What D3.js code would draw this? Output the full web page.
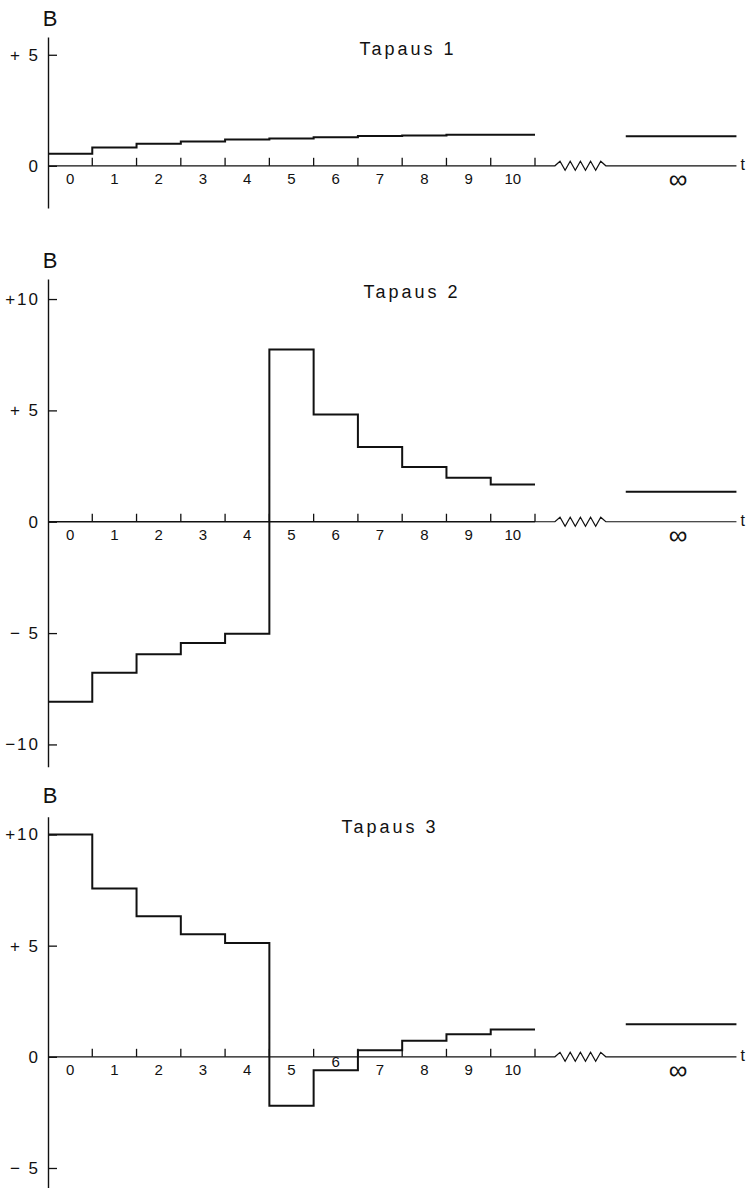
<!DOCTYPE html>
<html>
<head>
<meta charset="utf-8">
<script src="https://cdn.jsdelivr.net/npm/d3@7"></script>
<style>
  body { margin: 0; background: #fff; }
  svg text { font-family: "Liberation Sans", "DejaVu Sans", sans-serif; fill: #111; }
</style>
</head>
<body>
<div id="chart"></div>
<script>
const categories = ["0", "1", "2", "3", "4", "5", "6", "7", "8", "9", "10"];
const titles = ["Tapaus 1", "Tapaus 2", "Tapaus 3"];

// B per period, plus the limit value at t = infinity
const case1 = [0.54, 0.82, 0.99, 1.09, 1.18, 1.23, 1.29, 1.34, 1.36, 1.40, 1.40];
const case1Inf = 1.33;
const case2 = [-8.08, -6.78, -5.95, -5.45, -5.03, 7.73, 4.82, 3.36, 2.46, 1.97, 1.67];
const case2Inf = 1.35;
const case3 = [10.0, 7.57, 6.32, 5.51, 5.12, -2.2, -0.6, 0.30, 0.72, 1.02, 1.23];
const case3Inf = 1.46;

const yTicks1 = [0, 5];
const yTicks2 = [-10, -5, 0, 5, 10];
const yTicks3 = [-5, 0, 5, 10];
const tickLabel = v => v === 0 ? "0" : (v > 0 ? "+" : "\u2212") + (Math.abs(v) < 10 ? " " : "") + Math.abs(v);

const W = 751, H = 1188;
const svg = d3.select("#chart").append("svg")
  .attr("width", W).attr("height", H);

// t runs on a linear scale: periods 0..10, then the break, then infinity
const x = d3.scaleLinear().domain([-0.5, 10.5]).range([48, 535]);
const breakFrom = 10.95, breakTo = 12.1;
const infFrom = 12.55, infTo = 15.05, infMid = 13.73;

const panels = [
  { values: case1, inf: case1Inf, ticks: yTicks1, title: titles[0], domain: [-1.9, 5.8], range: [208, 37], titleY: 50, bY: 20 },
  { values: case2, inf: case2Inf, ticks: yTicks2, title: titles[1], domain: [-11.0, 10.9], range: [766.7, 279], titleY: 293, bY: 262 },
  { values: case3, inf: case3Inf, ticks: yTicks3, title: titles[2], domain: [-5.9, 10.8], range: [1188, 816.7], titleY: 828, bY: 797 }
];
const titleX = [408, 412, 390];

panels.forEach((p, k) => {
  const y = d3.scaleLinear().domain(p.domain).range(p.range);
  const g = svg.append("g");
  const y0 = y(0);

  // y axis, ticks pointing inward
  const yAxis = g.append("g")
    .attr("transform", `translate(${x(-0.5)},0)`)
    .call(d3.axisLeft(y).tickValues(p.ticks).tickSize(-9).tickSizeOuter(0).tickPadding(8).tickFormat(tickLabel));
  yAxis.select(".domain").attr("stroke", "#111").attr("stroke-width", 1.4);
  yAxis.selectAll(".tick line").attr("stroke", "#111").attr("stroke-width", 1.3);
  yAxis.selectAll(".tick text").attr("font-size", 17).attr("letter-spacing", 2).style("fill", "#111")
    .style("font-family", "\"Liberation Sans\", sans-serif");

  // t axis line with break zigzag
  const zz = [[x(10.5), y0], [x(breakFrom), y0]];
  const nTeeth = 10;
  for (let i = 1; i <= nTeeth; i++) {
    const t = breakFrom + (breakTo - breakFrom) * i / nTeeth;
    zz.push([x(t), i === nTeeth ? y0 : y0 + (i % 2 ? -4.5 : 4.5)]);
  }
  zz.push([x(infTo), y0]);
  g.append("line")
    .attr("x1", x(-0.5)).attr("x2", x(10.5)).attr("y1", y0).attr("y2", y0)
    .attr("stroke", "#111").attr("stroke-width", 1.3);
  g.append("path")
    .attr("d", d3.line()(zz))
    .attr("fill", "none").attr("stroke", "#111").attr("stroke-width", 1.2);

  // period boundary ticks (pointing up)
  const bounds = d3.range(0.5, 11, 1);
  g.selectAll(".bt").data(bounds).enter().append("line")
    .attr("x1", d => x(d)).attr("x2", d => x(d))
    .attr("y1", y0).attr("y2", y0 - 8)
    .attr("stroke", "#111").attr("stroke-width", 1.3);

  // period labels, lifted above the step line when it covers them
  g.selectAll(".cl").data(categories).enter().append("text")
    .attr("x", (d, i) => x(i))
    .attr("y", (d, i) => {
      const ly = y(p.values[i]);
      return (ly > y0 + 2 && ly < y0 + 22) ? y0 + 6 : y0 + 14;
    })
    .attr("text-anchor", "middle").attr("dominant-baseline", "middle")
    .attr("font-size", 15)
    .text(d => d);
  g.append("text")
    .attr("x", x(infMid)).attr("y", y0 + 15)
    .attr("text-anchor", "middle").attr("dominant-baseline", "middle")
    .attr("font-size", 26).text("\u221E");
  g.append("text")
    .attr("x", x(infTo) + 4).attr("y", y0)
    .attr("dominant-baseline", "middle")
    .attr("font-size", 16).text("t");

  // step line
  const pts = p.values.map((v, i) => [i - 0.5, v]).concat([[10.5, p.values[10]]]);
  g.append("path")
    .attr("d", d3.line().x(d => x(d[0])).y(d => y(d[1])).curve(d3.curveStepAfter)(pts))
    .attr("fill", "none").attr("stroke", "#111").attr("stroke-width", 2);

  // limit at infinity
  g.append("line")
    .attr("x1", x(infFrom)).attr("x2", x(infTo))
    .attr("y1", y(p.inf)).attr("y2", y(p.inf))
    .attr("stroke", "#111").attr("stroke-width", 2);

  // labels
  g.append("text")
    .attr("x", 50).attr("y", p.bY)
    .attr("text-anchor", "middle").attr("dominant-baseline", "middle")
    .attr("font-size", 22).text("B");
  g.append("text")
    .attr("x", titleX[k]).attr("y", p.titleY)
    .attr("text-anchor", "middle").attr("dominant-baseline", "middle")
    .attr("font-size", 18).attr("letter-spacing", 3).text(p.title);
});
</script>
</body>
</html>
